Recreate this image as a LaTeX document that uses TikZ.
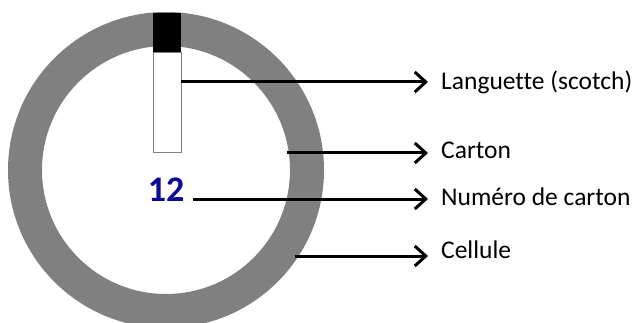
\documentclass[tikz,border=0pt]{standalone}
\usepackage{fontspec}
\setmainfont{Carlito}[Ligatures=NoCommon]
\usetikzlibrary{arrows.meta}
\definecolor{ringgray}{RGB}{128,128,128}
\definecolor{numblue}{RGB}{10,10,150}
\tikzset{
  lbl/.style={anchor=base west, inner sep=0pt, font=\fontsize{25.5}{30}\selectfont},
  pointer/.style={line width=3pt, -{Straight Barb[length=11pt,width=20pt]}},
}
\begin{document}
\begin{tikzpicture}[x=1pt,y=-1pt]
\useasboundingbox (0,0) rectangle (636,323);
\clip (0,0) rectangle (636,323);
\fill[white] (0,0) rectangle (636,323);
% ring
\fill[ringgray, even odd rule] (166,170) circle[radius=158] (166,170) circle[radius=124];
\coordinate (ringc) at (166,170);
% tab
\node[draw=ringgray, line width=1pt, fill=white, minimum width=28, minimum height=100, inner sep=0, anchor=north west] (tab) at (153,52) {};
\node[fill=black, minimum width=28, minimum height=39, inner sep=0, anchor=north west] (tabtop) at (153,13) {};
% number
\node[font=\fontsize{36}{40}\bfseries\selectfont, text=numblue, inner sep=0] (num) at (166,190) {12};
% labels
\node[lbl] (l1) at (441,90) {Languette (scotch)};
\node[lbl] (l2) at (441,158) {Carton};
\node[lbl] (l3) at (441,205) {Numéro de carton};
\node[lbl] (l4) at (441,258) {Cellule};
% start points
\coordinate (s1) at (181,82);
\coordinate (s2) at (287,153);
\coordinate (s3) at (193,199);
\coordinate (s4) at (295,256);
\coordinate (e1) at (428,82);
\coordinate (e2) at (428,153);
\coordinate (e3) at (428,199);
\coordinate (e4) at (428,256);
\draw[pointer] (s1) -- (e1);
\draw[pointer] (s2) -- (e2);
\draw[pointer] (s3) -- (e3);
\draw[pointer] (s4) -- (e4);
\end{tikzpicture}
\end{document}
